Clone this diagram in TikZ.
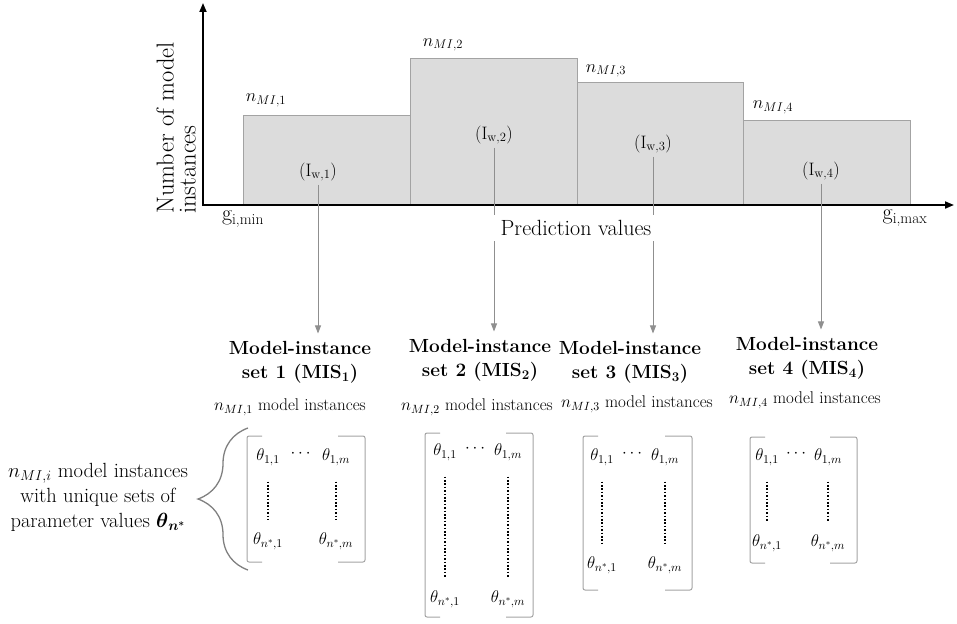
\RequirePackage{fix-cm}
\documentclass[tikz,border=0pt]{standalone}
\usepackage{amsmath}
\usetikzlibrary{arrows.meta,decorations.pathreplacing}

\definecolor{barfill}{HTML}{DCDCDC}
\definecolor{baredge}{HTML}{A3A3A3}
\definecolor{linkgray}{HTML}{8F8F8F}
\definecolor{bracegray}{HTML}{808080}

\tikzset{
  bar/.style={fill=barfill, draw=baredge, line width=1pt},
  axis/.style={line width=1.8pt},
  link/.style={draw=linkgray, line width=0.9pt, -{Triangle[length=8pt,width=6pt]}, shorten >=4pt},
  dotline/.style={line width=1.6pt, dash pattern=on 1.6pt off 1.8pt, shorten <=14pt, shorten >=11pt},
  bracket/.style={draw=baredge, line width=1pt, rounded corners=2pt},
  settitle/.style={align=center, font=\bfseries\fontsize{19}{24}\selectfont},
  countlabel/.style={font=\fontsize{17}{20}\selectfont},
  barlabel/.style={font=\fontsize{18}{20}\selectfont},
  entry/.style={font=\fontsize{17}{19}\selectfont, inner sep=2pt},
  biglabel/.style={font=\fontsize{22}{25}\selectfont}
}

\begin{document}
\begin{tikzpicture}[x=1pt,y=-1pt]
    \useasboundingbox (0,0) rectangle (957,623);
    % Histogram bars
    \filldraw[bar] (243,205) rectangle (410,115);
    \filldraw[bar] (410,205) rectangle (577,59);
    \filldraw[bar] (577,205) rectangle (743,83);
    \filldraw[bar] (743,205) rectangle (910,120);
    % Axes
    \coordinate (ytop) at (203,3);
    \coordinate (origin) at (203,205);
    \coordinate (xend) at (954,205);
    \draw[axis, {Triangle[length=9pt,width=7pt]}-{Triangle[length=9pt,width=7pt]}] (ytop) -- (origin) -- (xend);
    \node[font=\fontsize{24.5}{22}\selectfont, rotate=90, align=left] (ylab) at (176,128) {Number of model\\instances};
    \node[biglabel] (gmin) at (243,219) {g\textsubscript{i,min}};
    \node[biglabel] (gmax) at (905,218) {g\textsubscript{i,max}};
    % Bar heights
    \node[barlabel] (n1) at (266,100) {$n_{MI,1}$};
    \node[barlabel] (n2) at (443,45) {$n_{MI,2}$};
    \node[barlabel] (n3) at (606,71) {$n_{MI,3}$};
    \node[barlabel] (n4) at (773,107) {$n_{MI,4}$};
    % Interval weights
    \node[barlabel] (w1) at (318,172) {(I\textsubscript{w,1})};
    \node[barlabel] (w2) at (494,135) {(I\textsubscript{w,2})};
    \node[barlabel] (w3) at (653,144) {(I\textsubscript{w,3})};
    \node[barlabel] (w4) at (821,171) {(I\textsubscript{w,4})};
    % Model-instance sets
    \node[settitle] (mis1) at (300,362) {Model-instance\\set 1 (MIS\textsubscript{1})};
    \node[settitle] (mis2) at (480,360) {Model-instance\\set 2 (MIS\textsubscript{2})};
    \node[settitle] (mis3) at (630,362) {Model-instance\\set 3 (MIS\textsubscript{3})};
    \node[settitle] (mis4) at (807,358) {Model-instance\\set 4 (MIS\textsubscript{4})};
    \node[countlabel] (c1) at (290,407) {$n_{MI,1}$ model instances};
    \node[countlabel] (c2) at (477,407) {$n_{MI,2}$ model instances};
    \node[countlabel] (c3) at (637,404) {$n_{MI,3}$ model instances};
    \node[countlabel] (c4) at (805,400) {$n_{MI,4}$ model instances};
    % Arrows down to the sets
    \draw[link] (w1.south) -- (w1.south |- mis1.north);
    \draw[link] (w2.south) -- (w2.south |- mis2.north);
    \draw[link] (w3.south) -- (w3.south |- mis3.north);
    \draw[link] (w4.south) -- (w4.south |- mis4.north);
    % Axis title on top of the arrows
    \node[biglabel, fill=white, inner xsep=9pt, inner ysep=5pt] (xlab) at (576,228) {Prediction values};
    % Parameter matrices
    \foreach \i/\l/\r/\t/\b/\ca/\cb/\ya/\yb in {
        1/247/365/436/562/268/336/457/541,
        2/425/533/433/617/445/508/452/599,
        3/583/692/436/590/602/665/457/565,
        4/750/857/437/563/767/828/457/543}{
      \draw[bracket] (\l+15,\t) -- (\l,\t) -- (\l,\b) -- (\l+15,\b);
      \draw[bracket] (\r-27,\t) -- (\r,\t) -- (\r,\b) -- (\r-27,\b);
      \node[entry] (a\i) at (\ca,\ya) {$\theta_{1,1}$};
      \node[entry] (b\i) at (\cb,\ya) {$\theta_{1,m}$};
      \node[entry] (d\i) at ({(\ca+\cb)/2},\ya-3) {$\cdots$};
      \node[entry] (e\i) at (\ca,\yb) {$\theta_{n^*,1}$};
      \node[entry] (f\i) at (\cb,\yb) {$\theta_{n^*,m}$};
      \draw[dotline] (a\i.south) -- (a\i.south |- e\i.north);
      \draw[dotline] (b\i.south) -- (b\i.south |- f\i.north);
    }
    % Description with brace
    \node[font=\fontsize{20.5}{25}\selectfont, align=center] (desc) at (98,497)
        {$n_{MI,i}$ model instances\\with unique sets of\\parameter values $\boldsymbol{\theta}_{\boldsymbol{n}^{\boldsymbol{*}}}$};
    \draw[draw=bracegray, line width=1.3pt, decorate, decoration={brace, amplitude=50pt}] (248,570) -- (248,428);
\end{tikzpicture}
\end{document}
